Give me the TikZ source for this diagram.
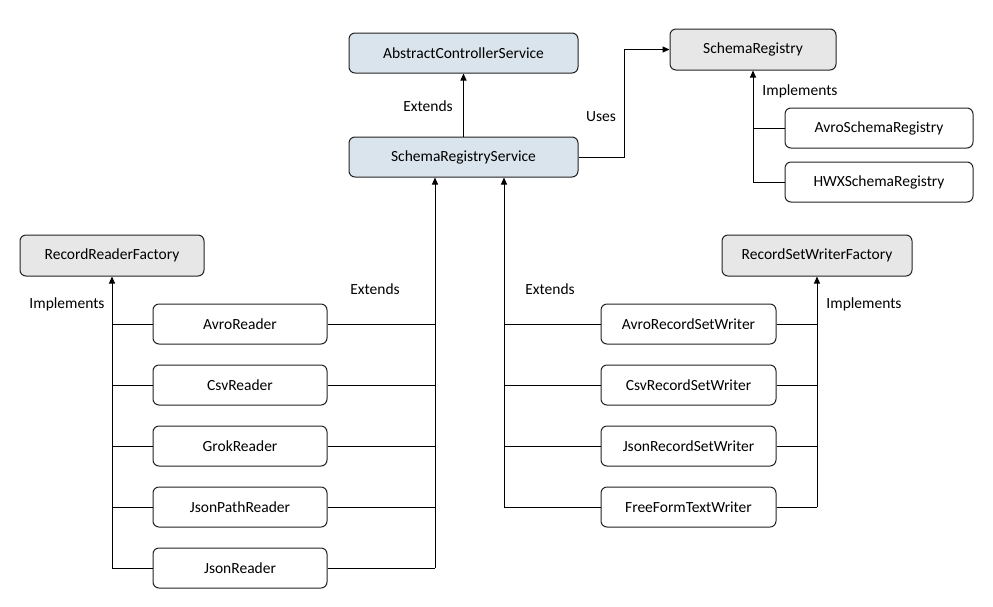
\documentclass[tikz,border=0pt]{standalone}
\usepackage{fontspec}
\setmainfont{Carlito}
\usetikzlibrary{positioning}
\usetikzlibrary{arrows.meta}

\definecolor{svcblue}{HTML}{DAE4EC}
\definecolor{ifgrey}{HTML}{E7E7E7}
\definecolor{edge}{HTML}{222222}

\tikzset{
  box/.style={draw=edge,line width=1pt,rounded corners=6pt,inner sep=0pt,
    minimum height=40pt,font=\fontsize{15.5}{18}\selectfont,fill=white},
  svcbox/.style={box,fill=svcblue},
  ifbox/.style={box,fill=ifgrey},
  lbl/.style={font=\fontsize{15.5}{18}\selectfont,inner sep=0pt},
  link/.style={draw=black,line width=1pt},
  arr/.style={link,-{Triangle[length=7pt,width=6pt]}}
}

\begin{document}
\begin{tikzpicture}[x=1pt,y=-1pt]
\useasboundingbox (0,0) rectangle (993,606);

% services
\node[svcbox,minimum width=229pt] (acs) at (463.5,53) {AbstractControllerService};
\node[svcbox,minimum width=229pt] (srs) at (463.5,157) {SchemaRegistryService};

% schema registries
\node[ifbox,minimum width=166pt,minimum height=41pt] (sr) at (753,49.5) {SchemaRegistry};
\node[box,minimum width=188pt] (avrosr) at (879,128) {AvroSchemaRegistry};
\node[box,minimum width=188pt] (hwxsr) at (879,182) {HWXSchemaRegistry};

% readers
\node[ifbox,minimum width=184pt,minimum height=41pt] (rrf) at (112,255.5) {RecordReaderFactory};
\node[box,minimum width=174pt] (avror) at (240,324) {AvroReader};
\node[box,minimum width=174pt] (csvr) at (240,385) {CsvReader};
\node[box,minimum width=174pt] (grokr) at (240,446) {GrokReader};
\node[box,minimum width=174pt] (jpathr) at (240,507) {JsonPathReader};
\node[box,minimum width=174pt] (jsonr) at (240,568) {JsonReader};

% writers
\node[ifbox,minimum width=190pt,minimum height=41pt] (rswf) at (817,255.5) {RecordSetWriterFactory};
\node[box,minimum width=175pt] (avrow) at (688.5,324) {AvroRecordSetWriter};
\node[box,minimum width=175pt] (csvw) at (688.5,385) {CsvRecordSetWriter};
\node[box,minimum width=175pt] (jsonw) at (688.5,446) {JsonRecordSetWriter};
\node[box,minimum width=175pt] (freew) at (688.5,507) {FreeFormTextWriter};

% connectors
\draw[arr] (srs.north) -- (acs.south);
\node[lbl] (ext1) at (428,106) {Extends};

\draw[arr] (srs.east) -| (624,49.5) -- (sr.west);
\node[lbl] (uses) at (601,117) {Uses};

\draw[arr] (sr.south |- hwxsr.west) -- (sr.south);
\draw[link] (sr.south |- avrosr.west) -- (avrosr.west);
\draw[link] (sr.south |- hwxsr.west) -- (hwxsr.west);
\node[lbl] (impl1) at (800,91) {Implements};

\coordinate (rdin) at ([xshift=-28.5pt]srs.south);
\coordinate (wrin) at ([xshift=40.5pt]srs.south);

\draw[arr] (rrf.south |- jsonr.west) -- (rrf.south);
\draw[link] (rrf.south |- avror.west) -- (avror.west);
\draw[link] (rrf.south |- csvr.west) -- (csvr.west);
\draw[link] (rrf.south |- grokr.west) -- (grokr.west);
\draw[link] (rrf.south |- jpathr.west) -- (jpathr.west);
\draw[link] (rrf.south |- jsonr.west) -- (jsonr.west);
\node[lbl] (impl2) at (67,304) {Implements};

\draw[arr] (rdin |- jsonr.east) -- (rdin);
\draw[link] (avror.east) -- (rdin |- avror.east);
\draw[link] (csvr.east) -- (rdin |- csvr.east);
\draw[link] (grokr.east) -- (rdin |- grokr.east);
\draw[link] (jpathr.east) -- (rdin |- jpathr.east);
\draw[link] (jsonr.east) -- (rdin |- jsonr.east);
\node[lbl] (ext2) at (375,289) {Extends};

\draw[arr] (wrin |- freew.west) -- (wrin);
\draw[link] (avrow.west) -- (wrin |- avrow.west);
\draw[link] (csvw.west) -- (wrin |- csvw.west);
\draw[link] (jsonw.west) -- (wrin |- jsonw.west);
\draw[link] (freew.west) -- (wrin |- freew.west);
\node[lbl] (ext3) at (550,289) {Extends};

\draw[arr] (rswf.south |- freew.east) -- (rswf.south);
\draw[link] (avrow.east) -- (rswf.south |- avrow.east);
\draw[link] (csvw.east) -- (rswf.south |- csvw.east);
\draw[link] (jsonw.east) -- (rswf.south |- jsonw.east);
\draw[link] (freew.east) -- (rswf.south |- freew.east);
\node[lbl] (impl3) at (864,304) {Implements};

\end{tikzpicture}
\end{document}
